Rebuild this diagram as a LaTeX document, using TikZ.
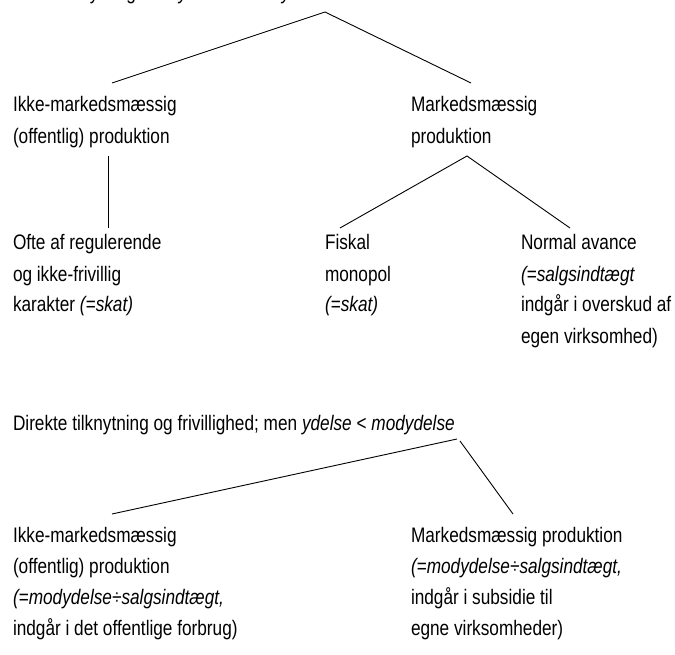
\documentclass[tikz,border=0pt]{standalone}
\usepackage{fontspec}
\setmainfont{Liberation Sans}[FakeStretch=0.82]
\begin{document}
\begin{tikzpicture}[x=1pt,y=-1pt,
  txt/.style={anchor=base west,inner sep=0pt,outer sep=0pt,font=\fontsize{21}{31}\selectfont},
  link/.style={line width=0.9pt}]
\useasboundingbox (0,0) rectangle (675,655);
\begin{scope}
\clip (0,0) rectangle (675,655);
\node[txt] (top) at (0,0) {Direkte tilknytning men \textit{ydelse} > \textit{modydelse}};
\end{scope}
% upper tree
\node[txt] (ul1) at (13,112) {Ikke-markedsmæssig};
\node[txt] (ul2) at (13,144) {(offentlig) produktion};
\node[txt] (ur1) at (411,112) {Markedsmæssig};
\node[txt] (ur2) at (411,144) {produktion};
\node[txt] (a1) at (13,250) {Ofte af regulerende};
\node[txt] (a2) at (13,281) {og ikke-frivillig};
\node[txt] (a3) at (13,312) {karakter \textit{(=skat)}};
\node[txt] (b1) at (325,250) {Fiskal};
\node[txt] (b2) at (325,281) {monopol};
\node[txt] (b3) at (325,312) {\textit{(=skat)}};
\node[txt] (c1) at (521,250) {Normal avance};
\node[txt] (c2) at (521,281) {\textit{(=salgsindtægt}};
\node[txt] (c3) at (521,312) {indgår i overskud af};
\node[txt] (c4) at (521,343) {egen virksomhed)};
% lower tree
\node[txt] (mid) at (13,430) {Direkte tilknytning og frivillighed; men \textit{ydelse} < \textit{modydelse}};
\node[txt] (l1) at (13,542) {Ikke-markedsmæssig};
\node[txt] (l2) at (13,573) {(offentlig) produktion};
\node[txt] (l3) at (13,604) {\textit{(=modydelse÷salgsindtægt,}};
\node[txt] (l4) at (13,635) {indgår i det offentlige forbrug)};
\node[txt] (r1) at (411,542) {Markedsmæssig produktion};
\node[txt] (r2) at (411,573) {\textit{(=modydelse÷salgsindtægt,}};
\node[txt] (r3) at (411,604) {indgår i subsidie til};
\node[txt] (r4) at (411,635) {egne virksomheder)};
% connector points
\coordinate (p0) at (325,12);
\coordinate (pl) at (112,83);
\coordinate (pr) at (471,83);
\coordinate (q0) at (108,156);
\coordinate (q1) at (108,228);
\coordinate (s0) at (467,156);
\coordinate (sl) at (340,228);
\coordinate (sr) at (570,228);
\coordinate (t0) at (457,439);
\coordinate (t1) at (460,441);
\coordinate (tl) at (112,514);
\coordinate (tr) at (513,514);
\draw[link] (pl) -- (p0) -- (pr);
\draw[link] (q0) -- (q1);
\draw[link] (sl) -- (s0) -- (sr);
\draw[link] (t0) -- (tl);
\draw[link] (t1) -- (tr);
\end{tikzpicture}
\end{document}
